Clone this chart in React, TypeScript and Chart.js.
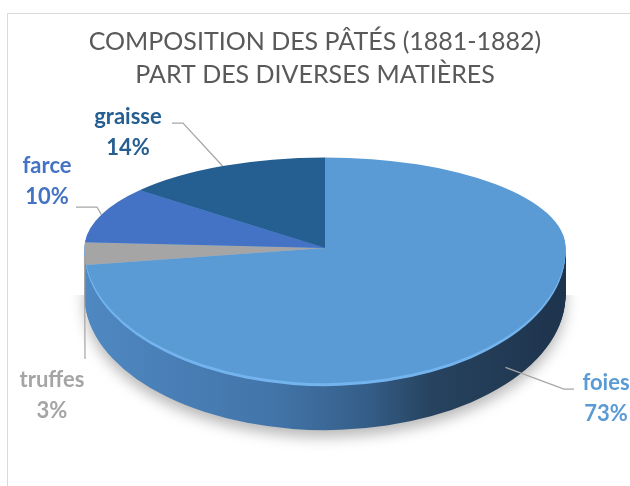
import { useEffect, useRef } from 'react';
import { Chart, registerables } from 'chart.js';

Chart.register(...registerables);

// ---- data ----
const CATEGORIES = ['foies', 'truffes', 'farce', 'graisse'];
const VALUES = [73, 3, 10, 14];
const COLORS = ['#5B9BD5', '#A5A5A5', '#4472C4', '#255E91'];
const TITLE_LINES = ['COMPOSITION DES PÂTÉS (1881-1882)', 'PART DES DIVERSES MATIÈRES'];

// ---- 3D view settings (layout / style only) ----
const VIEW = { dx: 10, sx: 1.62, back: 0.61, front: 0.91, depth: 47, rim: 3 };
const RIM_COLOR = '#74B4EE';
const SIDE_STOPS: [number, string][] = [
  [0, '#4F88C2'],
  [0.4, '#4274A8'],
  [0.58, '#355F8A'],
  [0.72, '#27435F'],
  [1, '#1E334C'],
];
const LABEL_LAYOUT = [
  { x: 606, y: 383, path: [[574, 389], [564, 389]], drop: 30 },
  { x: 52, y: 380, path: [[85, 359]], drop: 4 },
  { x: 47, y: 166, path: [[76, 207], [97, 207]], drop: 0 },
  { x: 128, y: 117, path: [[172, 123], [183, 123]], drop: 0 },
];

function geometry(arc: any) {
  const cx = arc.x, cy = arc.y, r = arc.outerRadius;
  const vx = cx + VIEW.dx, vy = Math.round(cy);
  return { cx, cy, r, vx, vy, rx: r * VIEW.sx };
}

function paintLayer(ctx: CanvasRenderingContext2D, chart: any, arcs: any[], g: any, off: number,
  fill: (i: number) => any, shadow: boolean) {
  const W = chart.width, H = chart.height;
  for (let half = 0; half < 2; half++) {
    ctx.save();
    ctx.beginPath();
    if (half === 0) ctx.rect(0, 0, W, g.vy + off + 1);
    else ctx.rect(0, g.vy + off, W, H);
    ctx.clip();
    if (shadow && half === 1) {
      ctx.shadowColor = 'rgba(0,0,0,0.28)';
      ctx.shadowBlur = 14;
      ctx.shadowOffsetY = 7;
    }
    ctx.translate(g.vx, g.vy + off);
    ctx.scale(VIEW.sx, half === 0 ? VIEW.back : VIEW.front);
    ctx.translate(-g.cx, -g.cy);
    arcs.forEach((arc, i) => {
      const fake = Object.create(arc);
      fake.options = { ...arc.options, backgroundColor: fill(i), borderWidth: 0 };
      fake.draw(ctx);
    });
    ctx.restore();
  }
}

const pie3dPlugin = {
  id: 'pie3d',
  beforeDraw(chart: any) {
    const ctx = chart.ctx;
    ctx.save();
    ctx.fillStyle = '#FFFFFF';
    ctx.fillRect(0, 0, chart.width, chart.height);
    ctx.strokeStyle = '#D9D9D9';
    ctx.lineWidth = 1;
    ctx.beginPath();
    ctx.moveTo(7.5, chart.height);
    ctx.lineTo(7.5, 13.5);
    ctx.lineTo(chart.width, 13.5);
    ctx.stroke();
    ctx.restore();
  },
  beforeDatasetsDraw(chart: any) {
    const ctx = chart.ctx;
    const meta = chart.getDatasetMeta(0);
    const arcs = meta.data;
    if (!arcs.length) return false;
    const g = geometry(arcs[0]);
    const side = ctx.createLinearGradient(g.cx - g.r, 0, g.cx + g.r, 0);
    SIDE_STOPS.forEach(([p, c]) => side.addColorStop(p, c));
    for (let d = VIEW.depth; d > VIEW.rim; d--) {
      paintLayer(ctx, chart, arcs, g, d, () => side, d === VIEW.depth);
    }
    for (let d = VIEW.rim; d > 0; d--) {
      paintLayer(ctx, chart, arcs, g, d, () => RIM_COLOR, false);
    }
    paintLayer(ctx, chart, arcs, g, 0, (i) => COLORS[i], false);
    return false;
  },
  afterDraw(chart: any) {
    const ctx = chart.ctx;
    const meta = chart.getDatasetMeta(0);
    const arcs = meta.data;
    if (!arcs.length) return;
    const g = geometry(arcs[0]);
    const total = VALUES.reduce((a, b) => a + b, 0);
    ctx.save();
    arcs.forEach((arc: any, i: number) => {
      const L = LABEL_LAYOUT[i];
      const mid = (arc.startAngle + arc.endAngle) / 2;
      const ux = Math.cos(mid), uy = Math.sin(mid);
      const ax = g.vx + ux * g.rx;
      const ay = g.vy + uy * g.r * (uy < 0 ? VIEW.back : VIEW.front) + L.drop;
      ctx.strokeStyle = '#A6A6A6';
      ctx.lineWidth = 1.25;
      ctx.beginPath();
      ctx.moveTo(L.path[0][0], L.path[0][1]);
      for (let k = 1; k < L.path.length; k++) ctx.lineTo(L.path[k][0], L.path[k][1]);
      ctx.lineTo(ax, ay);
      ctx.stroke();
      ctx.fillStyle = COLORS[i];
      ctx.font = 'bold 22px Lato';
      ctx.textAlign = 'center';
      ctx.textBaseline = 'middle';
      ctx.fillText(CATEGORIES[i], L.x, L.y);
      ctx.fillText(Math.round((VALUES[i] / total) * 100) + '%', L.x, L.y + 31);
    });
    ctx.restore();
  },
};

export default function App() {
  const ref = useRef<HTMLCanvasElement>(null);
  useEffect(() => {
    if (!ref.current) return;
    const chart = new Chart(ref.current, {
      type: 'pie',
      data: {
        labels: CATEGORIES,
        datasets: [{ data: VALUES, backgroundColor: COLORS, borderWidth: 0 }],
      },
      options: {
        animation: false,
        responsive: true,
        maintainAspectRatio: false,
        events: [],
        layout: { padding: { bottom: 90 } },
        plugins: {
          legend: { display: false },
          tooltip: { enabled: false },
          title: {
            display: true,
            text: TITLE_LINES,
            color: '#595959',
            font: { family: 'Lato', size: 25, weight: 'normal', lineHeight: 1.32 },
            padding: { top: 25, bottom: 8 },
          },
        },
      },
      plugins: [pie3dPlugin],
    } as any);
    return () => chart.destroy();
  }, []);
  return (
    <div style={{ position: 'fixed', left: 0, top: 0, width: 630, height: 486, background: '#fff' }}>
      <canvas ref={ref} />
    </div>
  );
}
